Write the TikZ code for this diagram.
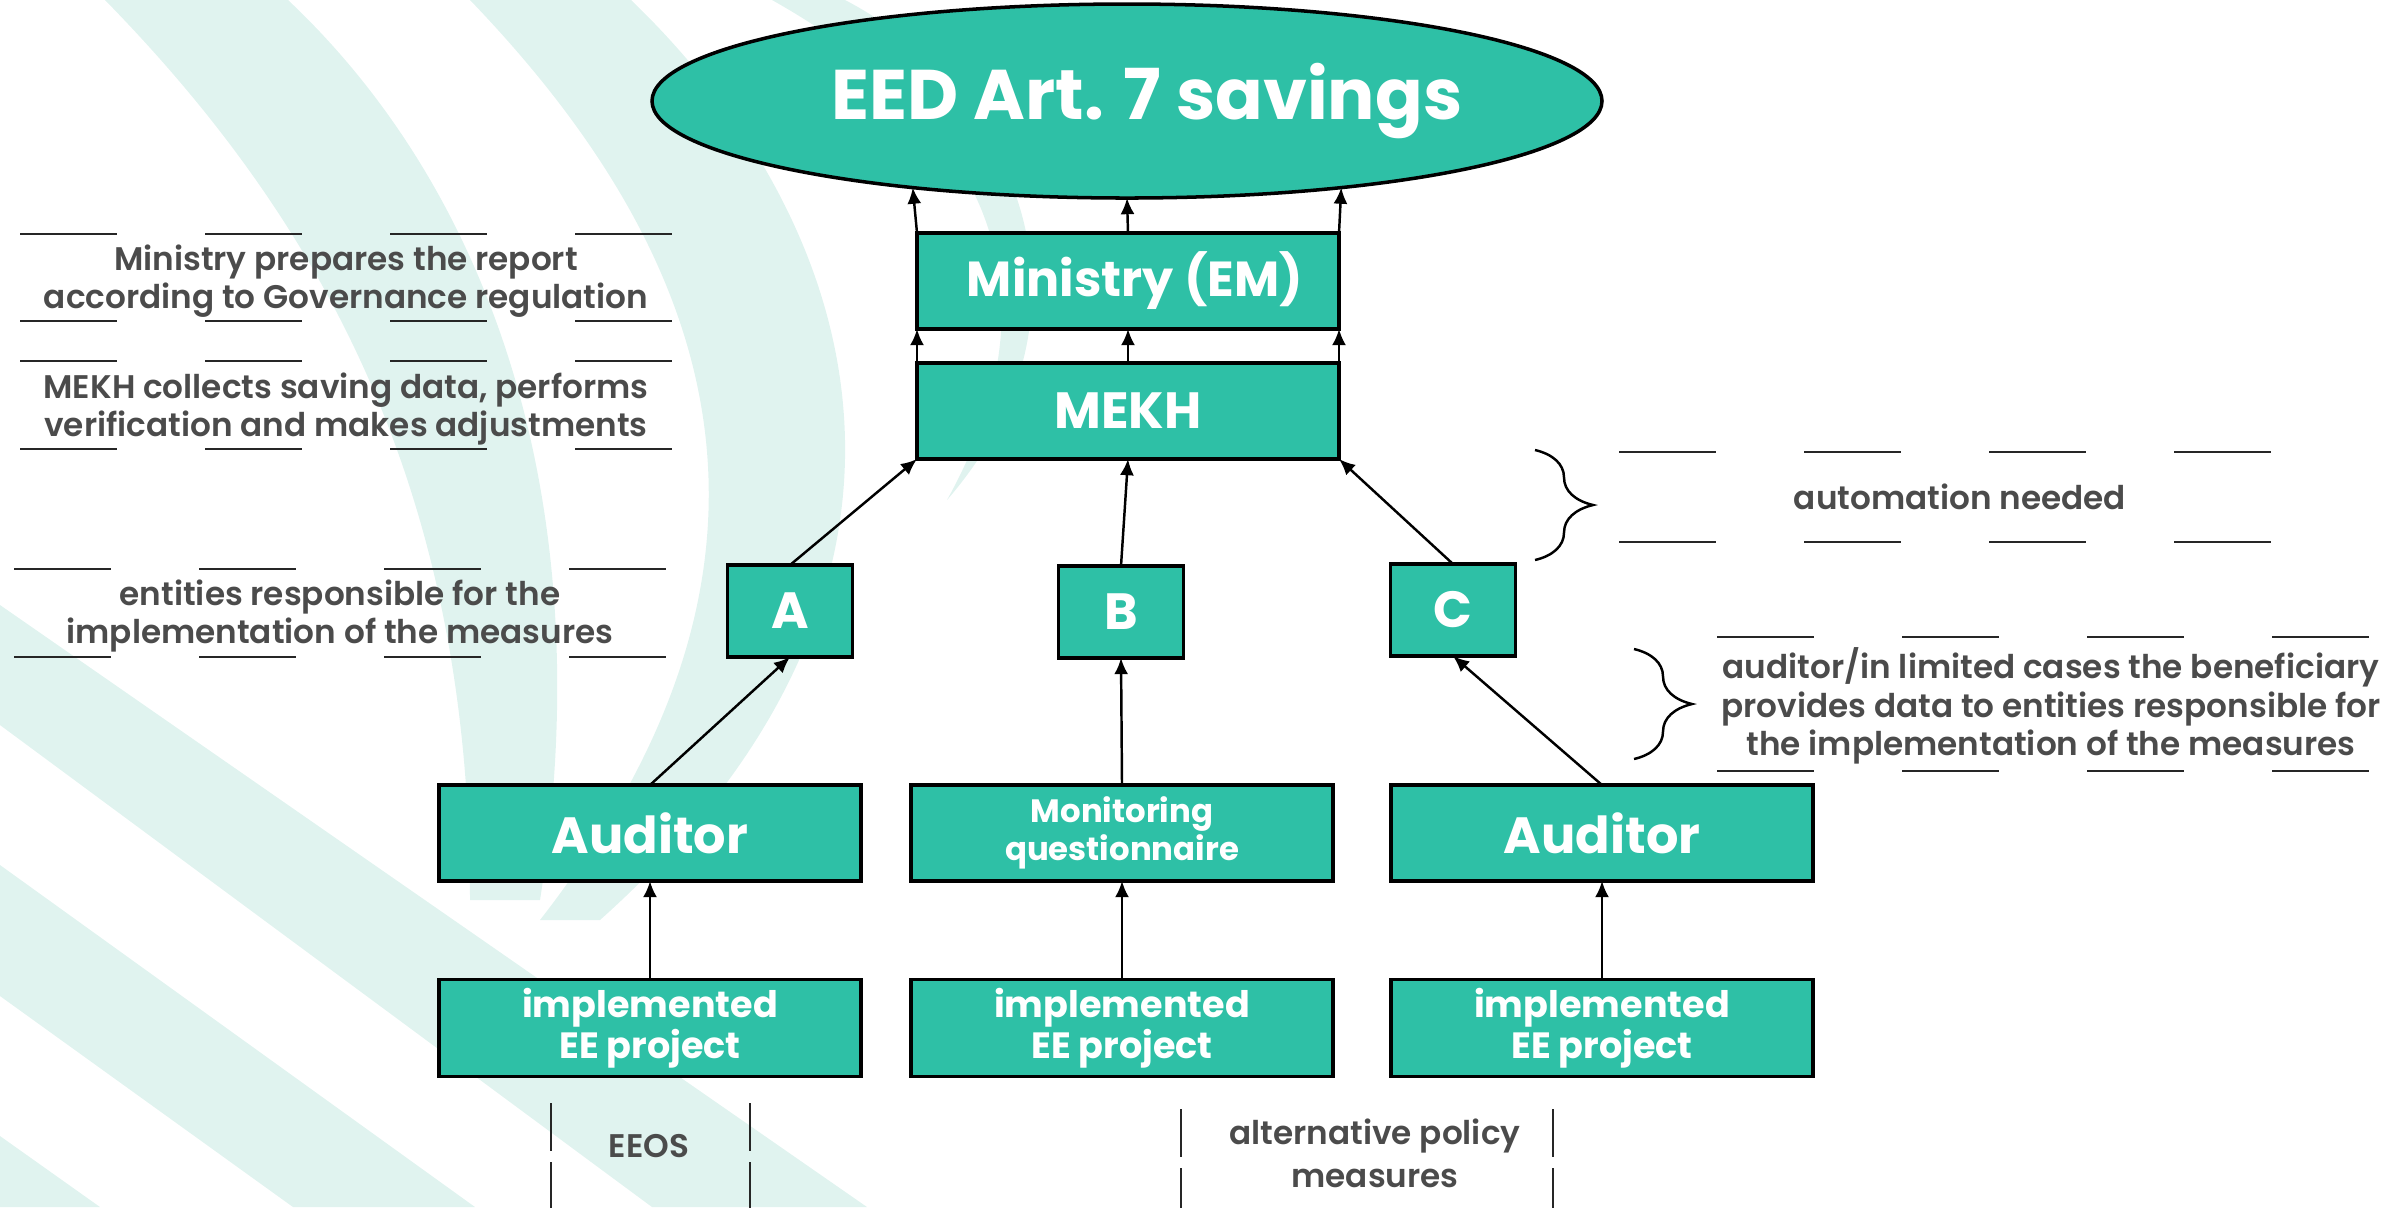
\documentclass[tikz,border=0pt]{standalone}
\usepackage{fontspec}
\setmainfont{Poppins}
\newfontfamily\notefont{Poppins SemiBold}
\usetikzlibrary{arrows.meta,decorations.pathreplacing,shapes.geometric}
\definecolor{teal1}{HTML}{2EC0A6}
\definecolor{bandcol}{HTML}{E0F3EF}
\definecolor{notegray}{HTML}{4B4B4B}

\begin{document}
\begin{tikzpicture}
[x=0.1mm,y=-0.1mm]
\tikzset{box/.style={draw, fill=teal1, line width=1pt, text=white, inner sep=0pt, outer sep=0pt, align=center, font=\bfseries\fontsize{14.5}{17}\selectfont}}
\tikzset{wbox/.style={box, minimum width=42.2mm, minimum height=9.6mm}}
\tikzset{lbox/.style={box, minimum width=12.5mm, minimum height=9.2mm}}
\tikzset{target/.style={ellipse, draw, fill=teal1, line width=1pt, text=white, inner sep=0pt, outer sep=0pt, minimum width=95mm, minimum height=19.4mm, font=\bfseries\fontsize{20}{24}\selectfont}}
\tikzset{note/.style={text=notegray, align=center, font=\notefont\fontsize{9.3}{10.9}\selectfont}}
\tikzset{arr/.style={-{Latex[length=4.6pt,width=4pt]}, line width=0.7pt}}
\tikzset{gapline/.style={draw=black!85, line width=0.6pt, dash pattern=on 9.7mm off 8.8mm}}
\tikzset{sideline/.style={draw=black!85, line width=0.6pt, dash pattern=on 4.8mm off 1.1mm}}
\tikzset{brc/.style={decorate, decoration={brace, amplitude=5.8mm}, line width=0.7pt}}
\useasboundingbox (0,0) rectangle (2395,1207);

% background bands
\begin{scope}
\clip (0,0) rectangle (2395,1207);
\fill[bandcol] (105,0) .. controls (330,230) and (470,500) .. (470,900) -- (540,900) .. controls (600,520) and (500,200) .. (288,0) -- cycle;
\fill[bandcol] (470,0) .. controls (720,260) and (820,560) .. (540,920) -- (600,920) .. controls (980,580) and (860,220) .. (631,0) -- cycle;
\fill[bandcol] (772,0) .. controls (950,100) and (1080,260) .. (947,500) .. controls (1120,300) and (1000,80) .. (845,0) -- cycle;
\fill[bandcol] (0,605) -- (867,1207) -- (652,1207) -- (0,725) -- cycle;
\fill[bandcol] (0,865) -- (475,1207) -- (293,1207) -- (0,996) -- cycle;
\fill[bandcol] (0,1136) -- (100,1207) -- (0,1207) -- cycle;
\end{scope}

\node [target] (eed) at (1127,101) {\hspace*{4mm}EED Art. 7 savings};
\node [wbox, font=\bfseries\fontsize{14}{17}\selectfont] (ministry) at (1128,281) {\hspace*{1.4mm}Ministry (EM)};
\node [wbox] (mekh) at (1128,411) {MEKH};
\node [lbox] (a) at (790,611) {A};
\node [lbox] (b) at (1121,612) {B};
\node [lbox] (c) at (1453,610) {C};
\node [wbox] (aud1) at (650,833) {Auditor};
\node [wbox, font=\bfseries\fontsize{9.2}{10.8}\selectfont] (mon) at (1122,833) {Monitoring\\questionnaire};
\node [wbox] (aud2) at (1602,833) {Auditor};
\node [wbox, minimum height=9.7mm, font=\bfseries\fontsize{10.4}{11.7}\selectfont] (imp1) at (650,1028) {implemented\\EE project};
\node [wbox, minimum height=9.7mm, font=\bfseries\fontsize{10.4}{11.7}\selectfont] (imp2) at (1122,1028) {implemented\\EE project};
\node [wbox, minimum height=9.7mm, font=\bfseries\fontsize{10.4}{11.7}\selectfont] (imp3) at (1602,1028) {implemented\\EE project};

\foreach \from/\to in {ministry.north west/eed.202,ministry.north/eed.south,ministry.north east/eed.338,mekh.north west/ministry.south west,mekh.north/ministry.south,mekh.north east/ministry.south east,a.north/mekh.south west,b.north/mekh.south,c.north/mekh.south east,aud1.north/a.south,mon.north/b.south,aud2.north/c.south,imp1.north/aud1.south,imp2.north/mon.south,imp3.north/aud2.south}
	\draw [arr] (\from) -- (\to);

% notes
\node [note] (report) at (346,281) {Ministry prepares the report\\according to Governance regulation};
\node [note] (collect) at (346,409) {MEKH collects saving data, performs\\verification and makes adjustments};
\node [note] (entities) at (340,616) {entities responsible for the\\implementation of the measures};
\node [note] (auto) at (1960,497) {automation needed};
\node [note] (provide) at (2051,706) {auditor/in limited cases the beneficiary\\provides data to entities responsible for\\the implementation of the measures};
\node [note] (eeos) at (649,1146) {EEOS};
\node [note, font=\notefont\fontsize{9.3}{12.2}\selectfont] (alt) at (1375,1153) {alternative policy\\measures};

\foreach \y in {234,321,361,449}
	\draw [gapline] (20,\y) -- (672,\y);
\foreach \y in {569,657}
	\draw [gapline] (14,\y) -- (666,\y);
\foreach \y in {452,542}
	\draw [gapline] (1619,\y) -- (2276,\y);
\foreach \y in {637,771}
	\draw [gapline] (1717,\y) -- (2374,\y);
\foreach \x in {551,750}
	\draw [sideline] (\x,1103) -- (\x,1215);
\foreach \x in {1181,1553}
	\draw [sideline] (\x,1109) -- (\x,1215);

\draw [brc] (1535,450) -- (1535,560);
\draw [brc] (1634,649) -- (1634,759);
\end{tikzpicture}
\end{document}
